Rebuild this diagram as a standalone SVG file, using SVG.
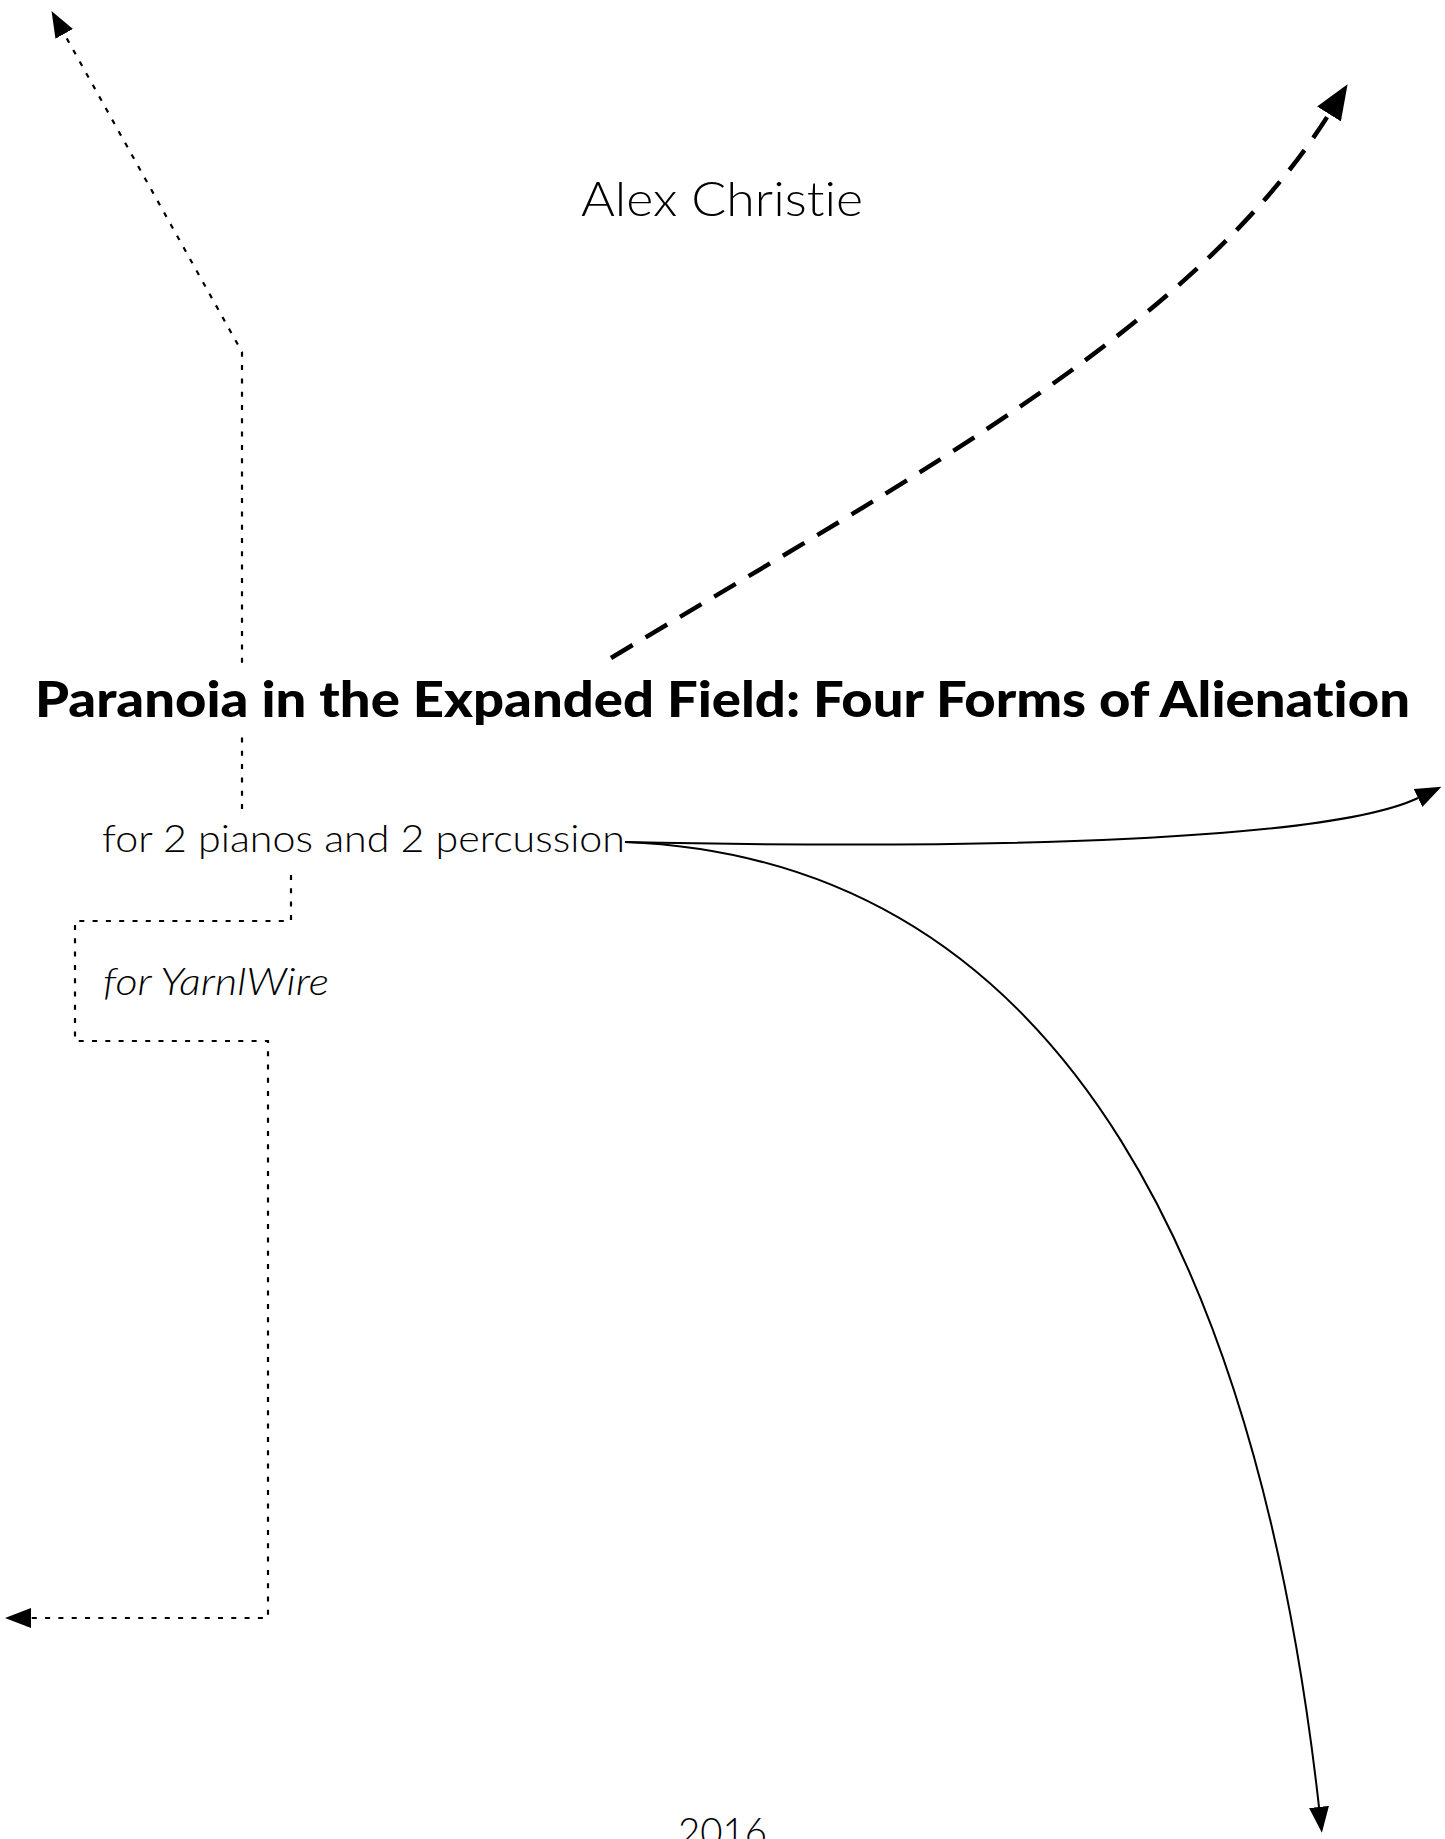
<svg xmlns="http://www.w3.org/2000/svg" width="1445" height="1839" viewBox="0 0 1445 1839">
  <style>
    .bg { fill: #ffffff; }
    .txt { font-family: Lato, "Liberation Sans", sans-serif; fill: #000; font-variant-ligatures: none; }
    .light { font-weight: 300; }
    .heavy { font-weight: 900; }
    .edge { fill: none; stroke: #000; }
    .dotted { stroke-width: 2.2; stroke-dasharray: 5 8.3; }
    .dashed { stroke-width: 4.5; stroke-dasharray: 25 15; }
    .solid { stroke-width: 2; }
  </style>
  <defs>
    <marker id="ah" viewBox="0 0 26 20" markerWidth="26" markerHeight="20" refX="0" refY="10" orient="auto" markerUnits="userSpaceOnUse">
      <path d="M0,0 L26,10 L0,20 Z" fill="#000"/>
    </marker>
    <marker id="ahBig" viewBox="0 0 35 28" markerWidth="35" markerHeight="28" refX="0" refY="14" orient="auto" markerUnits="userSpaceOnUse">
      <path d="M0,0 L35,14 L0,28 Z" fill="#000"/>
    </marker>
  </defs>
  <rect class="bg" x="0" y="0" width="1445" height="1839"/>

  <g id="connectors">
    <path id="e-top-left" class="edge dotted" d="M242,809 L242,352 L64.2,33.8" marker-end="url(#ah)"/>
    <path id="e-top-right" class="edge dashed" d="M611,658 C911,478 1196,326 1329,114" marker-end="url(#ahBig)"/>
    <path id="e-right" class="edge solid" d="M625,842 C1000,850 1330,840 1418,798" marker-end="url(#ah)"/>
    <path id="e-down" class="edge solid" d="M625,842 C1080,860 1262,1300 1319,1807" marker-end="url(#ah)"/>
    <path id="e-yarn" class="edge dotted" d="M291,875 V921 H75 V1041 H268 V1618 H31" marker-end="url(#ah)"/>
  </g>

  <g id="node-author">
    <text class="txt light" x="581" y="216" font-size="48" textLength="282" lengthAdjust="spacingAndGlyphs">Alex Christie</text>
  </g>

  <g id="node-title">
    <rect class="bg" x="30" y="663" width="1385" height="74"/>
    <text class="txt heavy" x="35" y="717" font-size="50" textLength="1375" lengthAdjust="spacingAndGlyphs">Paranoia in the Expanded Field: Four Forms of Alienation</text>
  </g>

  <g id="node-instrumentation">
    <text class="txt light" x="102" y="852" font-size="38" textLength="523" lengthAdjust="spacingAndGlyphs">for 2 pianos and 2 percussion</text>
  </g>

  <g id="node-dedication">
    <text class="txt light" x="103" y="995" font-size="38" font-style="italic" textLength="226" lengthAdjust="spacingAndGlyphs">for YarnlWire</text>
  </g>

  <g id="node-year">
    <text class="txt light" x="678" y="1846" font-size="40" textLength="89" lengthAdjust="spacingAndGlyphs">2016</text>
  </g>
</svg>
